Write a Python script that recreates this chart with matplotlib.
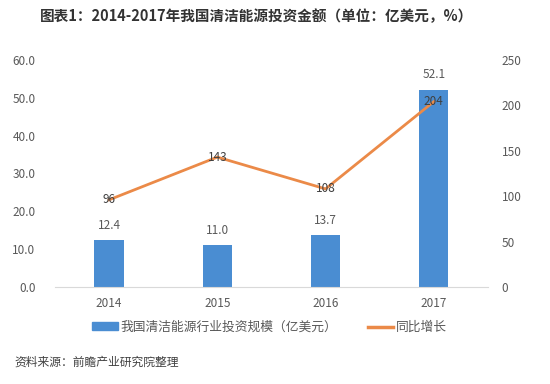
import matplotlib
matplotlib.use("Agg")
import matplotlib.pyplot as plt
from matplotlib.patches import Patch
from matplotlib.lines import Line2D

plt.rcParams['font.family'] = ['Noto Sans CJK SC', 'DejaVu Sans']

years = ["2014", "2015", "2016", "2017"]
invest = [12.4, 11.0, 13.7, 52.1]
growth = [96, 143, 108, 204]
left_ticks = [0, 10, 20, 30, 40, 50, 60]
right_ticks = [0, 50, 100, 150, 200, 250]

bar_color = "#4a8dd2"
line_color = "#EB8A48"
tick_color = "#595959"

fig = plt.figure(figsize=(5.5, 3.84), dpi=100)
ax = fig.add_axes([0.1, 0.2526, 0.787, 0.5914])
ax2 = ax.twinx()

x = list(range(len(years)))
ax.bar(x, invest, width=0.27, color=bar_color, zorder=2)
ax.set_xlim(-0.5, 3.5)
ax.set_ylim(0, 60)
ax.set_yticks(left_ticks)
ax.set_yticklabels([f"{v:.1f}" for v in left_ticks])
ax.set_xticks(x)
ax.set_xticklabels(years)
for v, xi in zip(invest, x):
    ax.text(xi, v + 2.2, f"{v:.1f}", ha="center", va="bottom", fontsize=8.5, color=tick_color)

ax2.plot(x, growth, color=line_color, lw=2, zorder=3)
ax2.set_ylim(0, 250)
ax2.set_yticks(right_ticks)
for v, xi in zip(growth, x):
    ax2.text(xi, v, f"{v}", ha="center", va="center", fontsize=8.5, color="#404040", zorder=4)

for a in (ax, ax2):
    for s in a.spines.values():
        s.set_visible(False)
    a.tick_params(length=0, labelsize=8.5, colors=tick_color)
ax.spines['bottom'].set_visible(True)
ax.spines['bottom'].set_color("#d9d9d9")
ax.tick_params(axis='y', pad=14)
ax2.tick_params(axis='y', pad=10)
ax.tick_params(axis='x', pad=7)

handles = [Patch(color=bar_color, label="我国清洁能源行业投资规模（亿美元）"),
           Line2D([0], [0], color=line_color, lw=2.5, label="同比增长")]
fig.legend(handles=handles, loc="center", bbox_to_anchor=(0.49, 0.148), ncol=2,
           frameon=False, fontsize=9.2, handlelength=2.0, handleheight=0.5,
           columnspacing=2.4, handletextpad=0.2, labelcolor=tick_color)

fig.text(0.073, 0.958, "图表1：2014-2017年我国清洁能源投资金额（单位：亿美元，%）",
         ha="left", va="center", fontsize=10.5, fontweight="bold", color="#333333")
fig.text(0.027, 0.057, "资料来源：前瞻产业研究院整理", ha="left", va="center",
         fontsize=8.5, style="italic", color="#404040")

fig.savefig("out.png", dpi=100)
